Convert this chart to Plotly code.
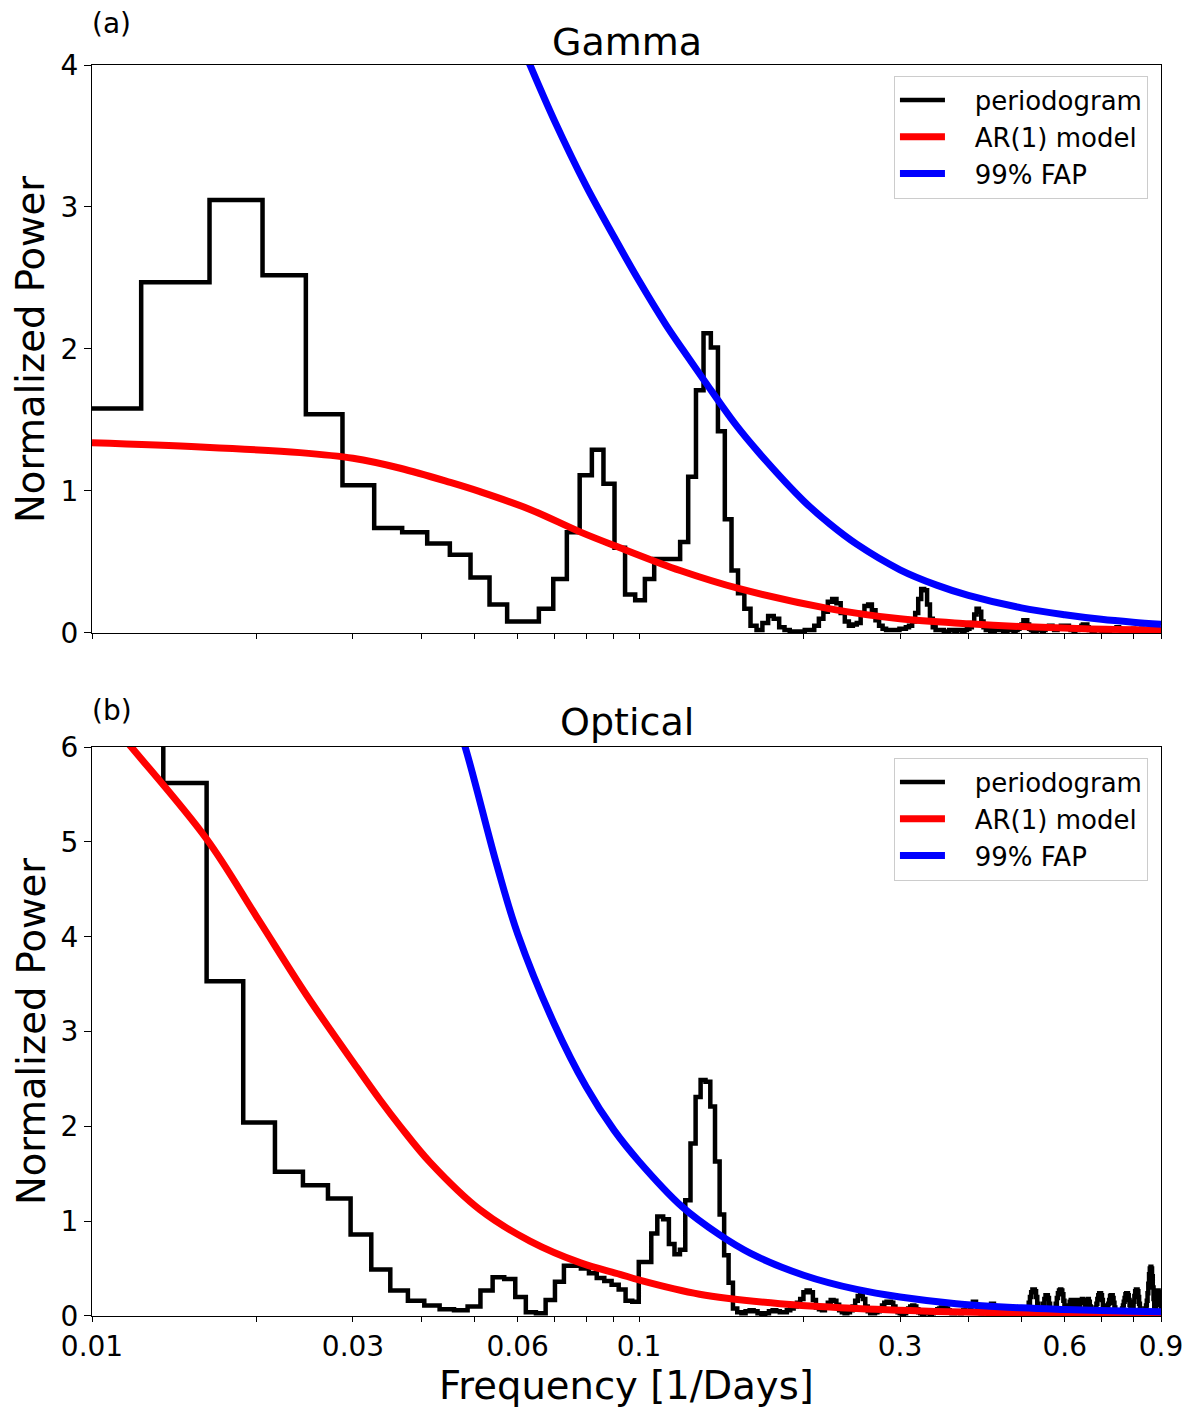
import numpy as np
import plotly.graph_objects as go

# ---- data ----
# periodogram bins are regular in frequency: bin k spans [k*df, (k+1)*df]
gamma_df = 0.0041
gamma_k0 = 2
gamma_power = [
    1.58, 2.47, 3.05, 2.52, 1.54, 1.04, 0.74, 0.71, 0.63, 0.55,
    0.39, 0.20, 0.08, 0.08, 0.17, 0.38, 0.71, 1.11, 1.29, 1.05,
    0.60, 0.27, 0.23, 0.38, 0.52, 0.52, 0.52, 0.64, 1.10, 1.71,
    2.11, 2.01, 1.42, 0.80, 0.44, 0.28, 0.17, 0.05, 0.02, 0.07,
    0.12, 0.10, 0.04, 0.02, 0.01, 0.01, 0.01, 0.02, 0.02, 0.05,
    0.10, 0.15, 0.22, 0.24, 0.21, 0.14, 0.08, 0.05, 0.06, 0.07,
    0.14, 0.19, 0.20, 0.16, 0.09, 0.05, 0.03, 0.02, 0.02, 0.02,
    0.02, 0.03, 0.03, 0.04, 0.05, 0.08, 0.14, 0.24, 0.31, 0.30,
    0.20, 0.10, 0.04, 0.02, 0.02, 0.02, 0.01, 0.01, 0.02, 0.02,
    0.01, 0.02, 0.02, 0.01, 0.02, 0.03, 0.04, 0.07, 0.13, 0.17,
    0.15, 0.08, 0.04, 0.02, 0.02, 0.01, 0.01, 0.02, 0.03, 0.03,
    0.02, 0.01, 0.01, 0.02, 0.02, 0.02, 0.01, 0.02, 0.03, 0.04,
    0.06, 0.09, 0.09, 0.06, 0.03, 0.02, 0.01, 0.01, 0.02, 0.02,
    0.02, 0.01, 0.02, 0.03, 0.04, 0.05, 0.05, 0.03, 0.02, 0.02,
    0.03, 0.04, 0.05, 0.05, 0.04, 0.05, 0.05, 0.03, 0.02, 0.02,
    0.01, 0.02, 0.02, 0.03, 0.04, 0.05, 0.06, 0.06, 0.06, 0.04,
    0.02, 0.02, 0.01, 0.01, 0.02, 0.02, 0.03, 0.02, 0.02, 0.01,
    0.01, 0.02, 0.02, 0.02, 0.01, 0.02, 0.02, 0.03, 0.03, 0.03,
    0.04, 0.04, 0.03, 0.02, 0.01, 0.01, 0.02, 0.02, 0.02, 0.01,
    0.01, 0.02, 0.02, 0.03, 0.02, 0.02, 0.01, 0.02, 0.02, 0.02,
    0.03, 0.02, 0.02, 0.01, 0.01, 0.02, 0.02, 0.02, 0.03, 0.02,
    0.02, 0.01, 0.02, 0.02, 0.02, 0.01, 0.02, 0.02,
]

gamma_ar1_freq = [0.01, 0.0158, 0.024, 0.03, 0.0366, 0.0452, 0.0512, 0.0632,
                  0.0782, 0.0923, 0.1189, 0.1532, 0.2236, 0.3, 0.4, 0.5, 0.65, 0.9]
gamma_ar1 = [1.34, 1.31, 1.27, 1.23, 1.16, 1.06, 0.995, 0.87,
             0.71, 0.60, 0.44, 0.31, 0.17, 0.10, 0.065, 0.045, 0.03, 0.02]

gamma_fap_freq = [0.060, 0.0632, 0.07, 0.08, 0.09, 0.1, 0.112, 0.12, 0.132, 0.15,
                  0.1656, 0.2, 0.2236, 0.25, 0.3, 0.35, 0.4, 0.5, 0.6, 0.7, 0.8, 0.9]
gamma_fap = [4.21, 4.0, 3.61, 3.15, 2.79, 2.48, 2.17, 2.00, 1.77, 1.47,
             1.27, 0.93, 0.765, 0.625, 0.445, 0.337, 0.265, 0.177, 0.128, 0.096, 0.076, 0.062]

optical_df = 0.0027
optical_k0 = 3
optical_power = [
    8.4, 7.1, 5.62, 3.53, 2.04, 1.52, 1.38, 1.24, 0.86, 0.49,
    0.27, 0.16, 0.11, 0.07, 0.06, 0.10, 0.27, 0.41, 0.39, 0.20,
    0.04, 0.03, 0.17, 0.36, 0.53, 0.53, 0.50, 0.45, 0.40, 0.37,
    0.33, 0.28, 0.16, 0.15, 0.57, 0.57, 0.87, 1.05, 1.02, 0.76,
    0.65, 0.70, 1.22, 1.82, 2.31, 2.49, 2.47, 2.21, 1.63, 1.07,
    0.64, 0.35, 0.08, 0.04, 0.03, 0.05, 0.06, 0.05, 0.03, 0.02,
    0.03, 0.05, 0.06, 0.05, 0.04, 0.04, 0.06, 0.08, 0.10, 0.14,
    0.18, 0.25, 0.27, 0.25, 0.17, 0.09, 0.07, 0.06, 0.09, 0.14,
    0.17, 0.16, 0.12, 0.06, 0.04, 0.03, 0.04, 0.06, 0.10, 0.16,
    0.21, 0.22, 0.18, 0.10, 0.05, 0.03, 0.03, 0.04, 0.05, 0.07,
    0.11, 0.14, 0.15, 0.15, 0.14, 0.10, 0.06, 0.04, 0.03, 0.02,
    0.03, 0.05, 0.08, 0.10, 0.11, 0.10, 0.07, 0.04, 0.03, 0.02,
    0.03, 0.04, 0.03, 0.02, 0.03, 0.05, 0.06, 0.07, 0.08, 0.09,
    0.09, 0.09, 0.08, 0.06, 0.04, 0.03, 0.03, 0.04, 0.05, 0.04,
    0.03, 0.04, 0.06, 0.05, 0.04, 0.05, 0.08, 0.12, 0.15, 0.15,
    0.12, 0.07, 0.04, 0.03, 0.04, 0.06, 0.05, 0.04, 0.06, 0.10,
    0.13, 0.13, 0.09, 0.05, 0.04, 0.03, 0.02, 0.03, 0.04, 0.03,
    0.02, 0.03, 0.05, 0.04, 0.03, 0.02, 0.03, 0.04, 0.05, 0.04,
    0.03, 0.03, 0.04, 0.06, 0.05, 0.04, 0.05, 0.08, 0.14, 0.20,
    0.25, 0.28, 0.28, 0.26, 0.20, 0.13, 0.07, 0.05, 0.05, 0.08,
    0.13, 0.18, 0.22, 0.22, 0.19, 0.13, 0.08, 0.05, 0.04, 0.05,
    0.08, 0.13, 0.19, 0.24, 0.27, 0.28, 0.27, 0.23, 0.16, 0.10,
    0.06, 0.05, 0.07, 0.11, 0.15, 0.17, 0.16, 0.13, 0.12, 0.15,
    0.17, 0.17, 0.15, 0.12, 0.14, 0.17, 0.18, 0.17, 0.14, 0.11,
    0.13, 0.17, 0.18, 0.15, 0.10, 0.06, 0.04, 0.04, 0.05, 0.06,
    0.09, 0.13, 0.18, 0.22, 0.24, 0.24, 0.22, 0.17, 0.11, 0.07,
    0.05, 0.05, 0.06, 0.09, 0.13, 0.17, 0.21, 0.22, 0.22, 0.19,
    0.14, 0.09, 0.05, 0.03, 0.03, 0.04, 0.04, 0.05, 0.05, 0.06,
    0.08, 0.11, 0.15, 0.19, 0.23, 0.24, 0.24, 0.22, 0.17, 0.12,
    0.08, 0.06, 0.07, 0.10, 0.15, 0.21, 0.26, 0.28, 0.28, 0.26,
    0.20, 0.13, 0.08, 0.05, 0.04, 0.04, 0.05, 0.05, 0.06, 0.08,
    0.11, 0.16, 0.24, 0.34, 0.44, 0.50, 0.52, 0.50, 0.42, 0.30,
    0.18, 0.10, 0.09, 0.14, 0.21, 0.26, 0.27, 0.25, 0.19, 0.12,
    0.08,
]

optical_ar1_freq = [0.0105, 0.0118, 0.0162, 0.0200, 0.0247, 0.0305, 0.0336, 0.0366,
                    0.0415, 0.0512, 0.0632, 0.0782, 0.0923, 0.1, 0.129, 0.181,
                    0.25, 0.369, 0.5, 0.65, 0.9]
optical_ar1 = [6.35, 6.0, 5.03, 4.21, 3.38, 2.62, 2.28, 2.00,
               1.62, 1.12, 0.79, 0.56, 0.44, 0.38, 0.23, 0.13,
               0.08, 0.045, 0.03, 0.02, 0.012]

optical_fap_freq = [0.045, 0.0481, 0.055, 0.06, 0.07, 0.08, 0.09, 0.1, 0.12, 0.14,
                    0.16, 0.2, 0.25, 0.3, 0.38, 0.5, 0.6, 0.7, 0.8, 0.9]
optical_fap = [6.5, 6.0, 4.75, 4.03, 3.08, 2.42, 1.96, 1.63, 1.15, 0.86,
               0.66, 0.43, 0.28, 0.20, 0.13, 0.086, 0.069, 0.058, 0.051, 0.046]

x_tickvals = [0.01, 0.02, 0.03, 0.04, 0.05, 0.06, 0.07, 0.08, 0.09,
              0.1, 0.2, 0.3, 0.4, 0.5, 0.6, 0.7, 0.8, 0.9]
x_ticktext = ["0.01", "", "0.03", "", "", "0.06", "", "", "",
              "0.1", "", "0.3", "", "", "0.6", "", "", "0.9"]

legend_names = ["periodogram", "AR(1) model", "99% FAP"]

FONT = "DejaVu Sans"
PAD = "\u00a0" * 3  # gap between legend line sample and its label


def step_xy(df, k0, power):
    # left edges of the bins plus the closing edge
    edges = df * np.arange(k0, k0 + len(power) + 1)
    return edges, list(power) + [power[-1]]


fig = go.Figure()

panels = [
    ("x", "y", "legend", gamma_df, gamma_k0, gamma_power,
     gamma_ar1_freq, gamma_ar1, gamma_fap_freq, gamma_fap),
    ("x2", "y2", "legend2", optical_df, optical_k0, optical_power,
     optical_ar1_freq, optical_ar1, optical_fap_freq, optical_fap),
]

for xa, ya, leg, df, k0, pw, arf, ar, fpf, fp in panels:
    sx, sy = step_xy(df, k0, pw)
    fig.add_trace(go.Scatter(x=sx, y=sy, mode="lines", name=PAD + legend_names[0],
                             line=dict(color="black", width=4.5, shape="hv"),
                             xaxis=xa, yaxis=ya, legend=leg))
    fig.add_trace(go.Scatter(x=arf, y=ar, mode="lines", name=PAD + legend_names[1],
                             line=dict(color="#ff0000", width=7, shape="spline"),
                             xaxis=xa, yaxis=ya, legend=leg))
    fig.add_trace(go.Scatter(x=fpf, y=fp, mode="lines", name=PAD + legend_names[2],
                             line=dict(color="#0000ff", width=7, shape="spline"),
                             xaxis=xa, yaxis=ya, legend=leg))

xaxis_common = dict(
    type="log", range=[np.log10(0.01), np.log10(0.9)],
    showline=True, mirror=True, linecolor="black", linewidth=1.3,
    ticks="outside", ticklen=5, tickwidth=1.3, tickcolor="black",
    tickvals=x_tickvals, ticktext=x_ticktext,
    showgrid=False, zeroline=False,
    tickfont=dict(family=FONT, size=28, color="black"),
)
yaxis_common = dict(
    showline=True, mirror=True, linecolor="black", linewidth=1.3,
    ticks="outside", ticklen=7, tickwidth=1.3, tickcolor="black",
    showgrid=False, zeroline=False,
    tickfont=dict(family=FONT, size=28, color="black"),
)

legend_common = dict(
    xanchor="right", yanchor="top", x=0.9878,
    bgcolor="white", bordercolor="#cccccc", borderwidth=1,
    font=dict(family=FONT, size=26, color="black"),
    itemwidth=45,
)

# page body has an 8px offset, margins compensate for it
fig.update_layout(
    width=1200, height=1418,
    margin=dict(l=84, r=47, t=57, b=110),
    paper_bgcolor="white", plot_bgcolor="white",
    font=dict(family=FONT, color="black"),
    xaxis=dict(xaxis_common, anchor="y", showticklabels=False),
    yaxis=dict(yaxis_common, domain=[0.546, 1.0], range=[0, 4],
               tickvals=[0, 1, 2, 3, 4], anchor="x"),
    xaxis2=dict(xaxis_common, anchor="y2"),
    yaxis2=dict(yaxis_common, domain=[0.0, 0.4548], range=[0, 6],
                tickvals=[0, 1, 2, 3, 4, 5, 6], anchor="x2"),
    legend=dict(legend_common, y=0.9916),
    legend2=dict(legend_common, y=0.4464),
)

ann = [
    dict(text="Gamma", x=0.5, y=1.0184, size=38),
    dict(text="Optical", x=0.5, y=0.4748, size=38),
    dict(text="(a)", x=0.0187, y=1.0328, size=28),
    dict(text="(b)", x=0.0187, y=0.4844, size=28),
    dict(text="Frequency [1/Days]", x=0.5, y=-0.0552, size=38.5),
]
for a in ann:
    fig.add_annotation(text=a["text"], x=a["x"], y=a["y"], xref="paper", yref="paper",
                       xanchor="center", yanchor="middle", showarrow=False,
                       font=dict(family=FONT, size=a["size"], color="black"))

for yc in (0.773, 0.2278):
    fig.add_annotation(text="Normalized Power", x=-0.0571, y=yc, xref="paper", yref="paper",
                       xanchor="center", yanchor="middle", showarrow=False, textangle=-90,
                       font=dict(family=FONT, size=38.5, color="black"))

fig.write_html("out.html")
